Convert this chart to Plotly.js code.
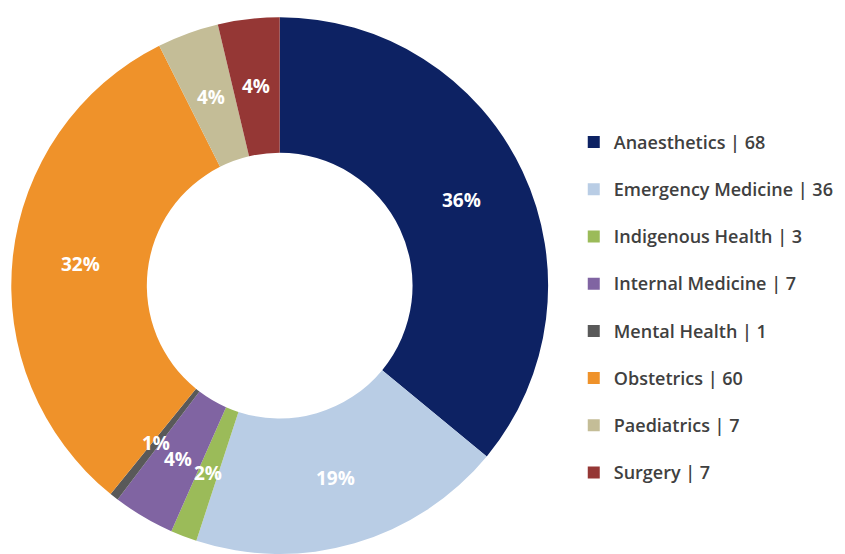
<!DOCTYPE html>
<html>
<head>
<meta charset="utf-8">
<script src="https://cdn.plot.ly/plotly-3.0.1.min.js"></script>
<style>html,body{margin:0;padding:0;background:#fff;}#chart{width:845px;height:554px;}</style>
</head>
<body>
<div id="chart"></div>
<script>
const categories = ["Anaesthetics", "Emergency Medicine", "Indigenous Health", "Internal Medicine", "Mental Health", "Obstetrics", "Paediatrics", "Surgery"];
const counts = [68, 36, 3, 7, 1, 60, 7, 7];
const sliceColors = ["#0D2263", "#B9CDE5", "#9BBB59", "#8064A2", "#595959", "#EF922A", "#C4BD97", "#953735"];

const HOLE = 0.495;
const W = 845, H = 554;
const legendLabels = categories.map((c, i) =>
  '<span style="font-size:18px">' + c + " | " + counts[i] + "</span><br> ");
const total = counts.reduce((a, b) => a + b, 0);
const pctLabels = counts.map(v => Math.round(100 * v / total) + "%");

const trace = {
  type: "pie",
  labels: legendLabels,
  values: counts,
  hole: HOLE,
  sort: false,
  direction: "clockwise",
  rotation: 0,
  marker: {colors: sliceColors, line: {width: 0}},
  textinfo: "none",
  domain: {x: [0.0, 0.662], y: [0, 0.969]},
  hoverinfo: "percent"
};

const layout = {
  width: W,
  height: H,
  margin: {l: 0, r: 0, t: 0, b: 0},
  paper_bgcolor: "#ffffff",
  showlegend: true,
  legend: {
    x: 0.679,
    xanchor: "left",
    y: 0.425,
    yanchor: "middle",
    valign: "top",
    font: {family: "'Open Sans', sans-serif", size: 17, color: "#404040", weight: 600},
    itemclick: false
  }
};

const gd = document.getElementById("chart");
Plotly.newPlot(gd, [trace], layout, {displayModeBar: false, staticPlot: true}).then(() => {
  // Place percentage labels at the middle of the ring, using the pie geometry Plotly computed
  const cd = gd.calcdata[0];
  const cx = cd[0].cx, cy = cd[0].cy, r = cd[0].r;
  const rMid = r * (1 + HOLE) / 2;
  const annotations = cd.map(pt => {
    const ux = pt.pxmid[0] / r, uy = pt.pxmid[1] / r;
    return {
      xref: "paper", yref: "paper",
      x: (cx + ux * rMid) / W,
      y: 1 - (cy + uy * rMid) / H,
      text: pctLabels[pt.i],
      showarrow: false,
      xanchor: "center", yanchor: "middle",
      font: {family: "'Open Sans', sans-serif", size: 19, color: "#ffffff", weight: "bold"}
    };
  });
  return Plotly.relayout(gd, {annotations: annotations});
});
</script>
</body>
</html>
